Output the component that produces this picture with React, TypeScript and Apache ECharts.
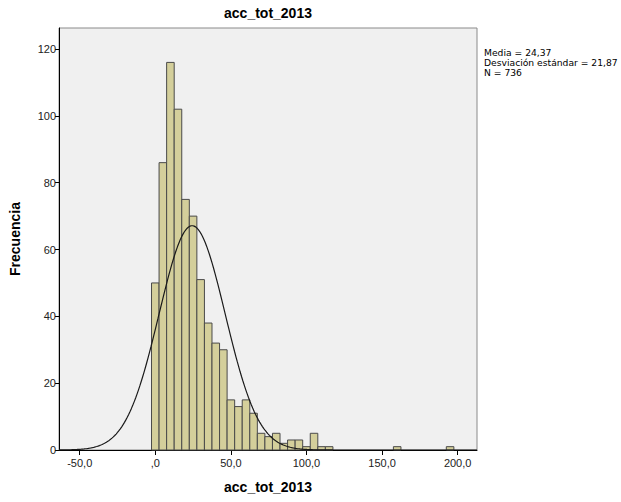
import React, { useEffect, useRef } from "react";
import * as echarts from "echarts";

const binCenters = [0, 5, 10, 15, 20, 25, 30, 35, 40, 45, 50, 55, 60, 65, 70, 75, 80, 85, 90, 95, 100, 105, 110, 115, 160, 195];
const binCounts = [50, 86, 116, 102, 75, 70, 51, 38, 32, 30, 15, 13, 15, 11, 5, 4, 5, 2, 3, 3, 1, 5, 1, 1, 1, 1];
const binWidth = 5;
const xTicks = [-50, 0, 50, 100, 150, 200];
const yTicks = [0, 20, 40, 60, 80, 100, 120];
const mean = 24.37;
const sd = 21.87;
const n = 736;
const statLines = ["Media = 24,37", "Desviación estándar = 21,87", "N = 736"];

const X_MIN = -63.7;
const X_MAX = 212.8;
const Y_MAX = 126.3;

export default function App() {
  const ref = useRef<HTMLDivElement>(null);
  useEffect(() => {
    if (!ref.current) return;
    const chart = echarts.init(ref.current, undefined, { renderer: "svg" });
    const curve: number[][] = [];
    const steps = 300;
    for (let i = 0; i <= steps; i++) {
      const x = X_MIN + ((X_MAX - X_MIN) * i) / steps;
      const y = (n * binWidth) / (sd * Math.sqrt(2 * Math.PI)) * Math.exp(-((x - mean) ** 2) / (2 * sd * sd));
      curve.push([x, y]);
    }
    const barData = binCenters.map((c, i) => [c - binWidth / 2, c + binWidth / 2, binCounts[i]]);
    const font = "'Liberation Sans', Arial, sans-serif";
    chart.setOption({
      animation: false,
      grid: {
        left: 59,
        right: 144,
        top: 28,
        bottom: 52,
        show: true,
        backgroundColor: "#f0f0f0",
        borderColor: "#8a8a8a",
        borderWidth: 1,
      },
      xAxis: {
        type: "value",
        min: X_MIN,
        max: X_MAX,
        name: "acc_tot_2013",
        nameLocation: "middle",
        nameGap: 30,
        nameTextStyle: { fontFamily: font, fontWeight: "bold", fontSize: 14, color: "#000" },
        splitLine: { show: false },
        axisLine: { show: true, onZero: false, lineStyle: { color: "#000", width: 1 } },
        axisTick: { show: true, length: 5, customValues: xTicks, lineStyle: { color: "#000" } },
        axisLabel: {
          customValues: xTicks,
          fontFamily: font,
          fontSize: 11,
          color: "#222",
          margin: 7,
          formatter: (v: number) => (v === 0 ? ",0" : v.toFixed(1).replace(".", ",")),
        },
      },
      yAxis: {
        type: "value",
        min: 0,
        max: Y_MAX,
        name: "Frecuencia",
        nameLocation: "middle",
        nameGap: 37,
        nameTextStyle: { fontFamily: font, fontWeight: "bold", fontSize: 14, color: "#000" },
        splitLine: { show: false },
        axisLine: { show: true, onZero: false, lineStyle: { color: "#000", width: 1 } },
        axisTick: { show: true, length: 4, customValues: yTicks, lineStyle: { color: "#000" } },
        axisLabel: {
          customValues: yTicks,
          fontFamily: font,
          fontSize: 11,
          color: "#222",
          margin: 3,
        },
      },
      graphic: [
        {
          type: "text",
          x: 268,
          y: 13,
          style: {
            text: "acc_tot_2013",
            fontFamily: font,
            fontWeight: "bold",
            fontSize: 14,
            fill: "#000",
            textAlign: "center",
            textVerticalAlign: "middle",
          },
        },
        ...statLines.map((t, i) => ({
          type: "text",
          x: 484,
          y: 47 + i * 10,
          style: {
            text: t,
            fontFamily: "'DejaVu Sans', sans-serif",
            fontSize: 9.2,
            lineHeight: 10,
            fill: "#000",
            textAlign: "left",
            textVerticalAlign: "top",
          },
        })),
      ],
      series: [
        {
          type: "custom",
          data: barData,
          encode: { x: [0, 1], y: 2 },
          renderItem: (params: any, api: any) => {
            const p0 = api.coord([api.value(0), api.value(2)]);
            const p1 = api.coord([api.value(1), 0]);
            return {
              type: "rect",
              shape: { x: p0[0], y: p0[1], width: p1[0] - p0[0], height: p1[1] - p0[1] },
              style: { fill: "#d4cf9b", stroke: "#4a4a4a", lineWidth: 1 },
            };
          },
        },
        {
          type: "line",
          data: curve,
          showSymbol: false,
          symbol: "none",
          smooth: false,
          lineStyle: { color: "#1a1a1a", width: 1.2 },
          z: 5,
        },
      ],
    });
    return () => chart.dispose();
  }, []);
  return (
    <div
      ref={ref}
      style={{ position: "fixed", left: 0, top: 0, width: 621, height: 502, background: "#fff" }}
    />
  );
}
